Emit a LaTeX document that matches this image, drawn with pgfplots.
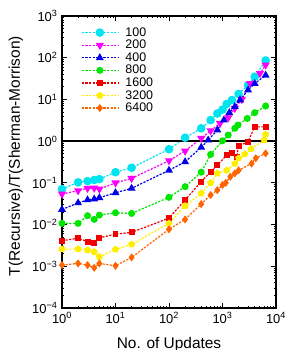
\documentclass[border=0pt]{standalone}
\usepackage{fontspec}
\setmainfont{Liberation Sans}
\usepackage{pgfplots}
\pgfplotsset{compat=1.18}
\definecolor{cCyan}{RGB}{0,228,240}
\definecolor{cMag}{RGB}{250,0,250}
\definecolor{cBlue}{RGB}{0,0,235}
\definecolor{cGreen}{RGB}{0,230,0}
\definecolor{cRed}{RGB}{240,0,0}
\definecolor{cYel}{RGB}{255,238,0}
\definecolor{cOr}{RGB}{255,100,0}
\begin{document}
\begin{tikzpicture}
\begin{axis}[
  at={(0,0)}, anchor=south west,
  scale only axis, width=214bp, height=292bp,
  xmode=log, ymode=log, log basis x=10, log basis y=10,
  xmin=1, xmax=10000, ymin=1e-4, ymax=1e3,
  xtick={1,10,100,1000,10000},
  xticklabels={10\textsuperscript{0},10\textsuperscript{1},10\textsuperscript{2},10\textsuperscript{3},10\textsuperscript{4}},
  ytick={1e-4,1e-3,1e-2,1e-1,1,10,100,1000},
  yticklabels={10\textsuperscript{−4},10\textsuperscript{−3},10\textsuperscript{−2},10\textsuperscript{−1},10\textsuperscript{0},10\textsuperscript{1},10\textsuperscript{2},10\textsuperscript{3}},
  minor xtick={2,3,4,5,6,7,8,9,20,30,40,50,60,70,80,90,200,300,400,500,600,700,800,900,2000,3000,4000,5000,6000,7000,8000,9000},
  minor ytick={2e-4,3e-4,4e-4,5e-4,6e-4,7e-4,8e-4,9e-4,2e-3,3e-3,4e-3,5e-3,6e-3,7e-3,8e-3,9e-3,2e-2,3e-2,4e-2,5e-2,6e-2,7e-2,8e-2,9e-2,0.2,0.3,0.4,0.5,0.6,0.7,0.8,0.9,2,3,4,5,6,7,8,9,20,30,40,50,60,70,80,90,200,300,400,500,600,700,800,900},
  tick align=inside, major tick length=5bp, minor tick length=2.5bp,
  axis line style={line width=1.3pt},
  every tick/.style={black, line width=0.9pt},
  tick label style={font=\fontsize{13}{15}\selectfont},
  xticklabel style={yshift=-1bp},
  yticklabel style={xshift=-1bp},
  xlabel={No. of Updates}, ylabel={T(Recursive)/T(Sherman-Morrison)},
  label style={font=\fontsize{15.5}{18}\selectfont},
  xlabel style={at={([yshift=-40bp]axis description cs:0.5,0)}, anchor=base},
  ylabel style={at={([xshift=-42bp]axis description cs:0,0.52)}, anchor=base},
  legend style={at={(axis description cs:0.075,0.975)}, anchor=north west, draw=none, fill=none,
    font=\fontsize{12.5}{13}\selectfont, row sep=-1.6pt},
  legend cell align=left,
  legend image code/.code={\draw[mark repeat=2,mark phase=2,#1] plot coordinates {(0bp,0bp) (18bp,0bp) (36bp,0bp)}; \path (41bp,0bp);},
  every axis plot/.append style={line width=1.2pt, dash pattern=on 2.2pt off 1.4pt},
]
\addplot[cCyan, mark=*, mark size=3.7, mark options={solid}] coordinates {
 (1,0.071) (2,0.103) (3,0.11) (4,0.117) (5,0.123) (10,0.18) (20,0.23) (100,0.64) (200,1.21) (400,2.03) (600,3.2) (800,4.6) (1000,5.7) (1200,7.8) (1500,9.7) (2000,13.5) (3000,22) (4000,35) (6400,86)};
\addplot[cMag, mark=triangle*, mark size=3.6, mark options={solid, rotate=180}] coordinates {
 (1,0.054) (2,0.065) (3,0.074) (4,0.075) (5,0.071) (10,0.1) (20,0.128) (100,0.34) (200,0.58) (400,1.17) (600,1.78) (900,2.67) (1280,3.64) (1700,6.1) (2300,10) (3300,24) (5000,42) (6400,67)};
\addplot[cBlue, mark=triangle*, mark size=3.4, mark options={solid}] coordinates {
 (1,0.023) (2,0.033) (3,0.039) (4,0.041) (5,0.044) (10,0.058) (20,0.074) (100,0.2) (200,0.32) (400,0.71) (540,1.06) (800,1.85) (1060,3.2) (1340,4.8) (1700,6.7) (2130,9.7) (3000,16.8) (4000,24) (6400,38)};
\addplot[cGreen, mark=*, mark size=2.9, mark options={solid}] coordinates {
 (1,0.0107) (2,0.0107) (3,0.0163) (4,0.0133) (5,0.0169) (10,0.0192) (20,0.0185) (100,0.045) (200,0.081) (400,0.18) (600,0.48) (1000,1.02) (1280,1.4) (1700,2.03) (1950,2.43) (2900,3.5) (4000,4.8) (6400,6.95)};
\addplot[cRed, mark=square*, mark size=2.4, mark options={solid}] coordinates {
 (1,0.0041) (2,0.0047) (3,0.0039) (4,0.0037) (5,0.0048) (10,0.0059) (20,0.0065) (100,0.0143) (200,0.039) (400,0.106) (600,0.185) (800,0.267) (1200,0.46) (1480,0.51) (1840,0.41) (2000,0.76) (3000,0.97) (4000,2.2) (6400,2.2)};
\addplot[cYel, mark=pentagon*, mark size=3.0, mark options={solid}] coordinates {
 (1,0.00258) (2,0.00258) (3,0.00244) (4,0.00223) (5,0.00169) (10,0.00254) (20,0.00335) (100,0.0107) (200,0.028) (400,0.056) (600,0.1) (800,0.169) (1200,0.2) (1700,0.29) (2000,0.39) (2600,0.49) (3400,0.65) (6000,1.06) (6400,1.45)};
\addplot[cOr, mark=diamond*, mark size=3.1, mark options={solid}] coordinates {
 (1,0.00107) (2,0.00117) (3,0.00107) (4,0.00092) (5,0.00117) (10,0.00103) (20,0.00163) (100,0.0077) (200,0.0133) (400,0.031) (600,0.051) (800,0.067) (1000,0.089) (1150,0.1) (1400,0.14) (1700,0.169) (2000,0.2) (3500,0.29) (4200,0.39) (6400,0.51)};
\addplot[black, line width=1.4pt, solid, forget plot] coordinates {(1,1) (10000,1)};
\legend{100,200,400,800,1600,3200,6400}
\end{axis}
\pgfresetboundingbox
\path[use as bounding box] (-62bp,-42bp) rectangle (238bp,308bp);
\end{tikzpicture}
\end{document}
